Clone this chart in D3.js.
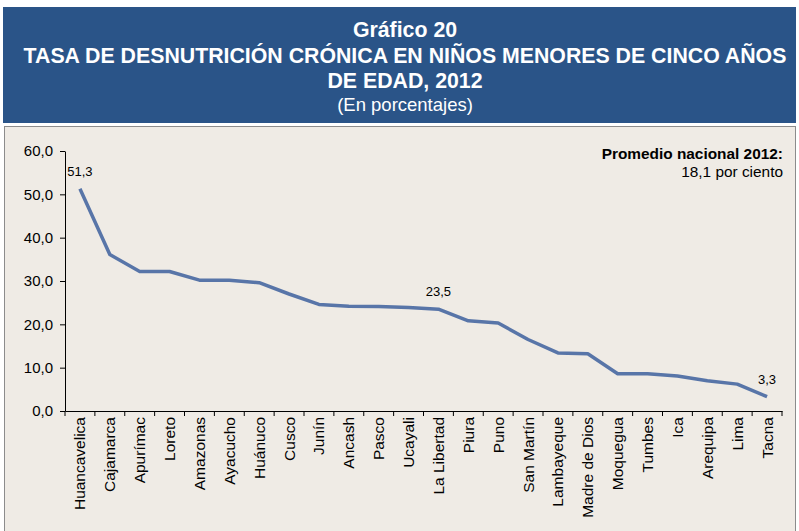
<!DOCTYPE html>
<meta charset="utf-8">
<body style="margin:0;background:#fff">
<script src="https://cdn.jsdelivr.net/npm/d3@7"></script>
<script>
// regions and values
var regions = ["Huancavelica","Cajamarca","Apurímac","Loreto","Amazonas","Ayacucho","Huánuco","Cusco","Junín","Ancash","Pasco","Ucayali","La Libertad","Piura","Puno","San Martín","Lambayeque","Madre de Dios","Moquegua","Tumbes","Ica","Arequipa","Lima","Tacna"];
var rates = [51.3,36.1,32.2,32.2,30.2,30.2,29.6,27.0,24.6,24.2,24.1,23.9,23.5,20.8,20.3,16.5,13.4,13.2,8.6,8.6,8.1,7.0,6.2,3.3];
var labelled = ["Huancavelica","La Libertad","Tacna"];
var yTicks = [0,10,20,30,40,50,60];

var W = 799, H = 531;
var fmt = function(v) { return d3.format(".1f")(v).replace(".", ","); };

var svg = d3.select("body").append("svg")
    .attr("width", W)
    .attr("height", H)
    .style("font-family", "Liberation Sans, Arial, sans-serif");

// header
svg.append("rect")
    .attr("x", 3).attr("y", 7).attr("width", 793).attr("height", 116)
    .attr("fill", "#2a5488");
var title = [
    {t: "Gráfico 20", y: 37, s: 21.3, w: "bold"},
    {t: "TASA DE DESNUTRICIÓN CRÓNICA EN NIÑOS MENORES DE CINCO AÑOS", y: 63, s: 21.3, w: "bold"},
    {t: "DE EDAD, 2012", y: 88, s: 21.3, w: "bold"},
    {t: "(En porcentajes)", y: 111, s: 18.5, w: "normal"}
];
svg.selectAll(".title").data(title).enter().append("text")
    .attr("x", 405).attr("y", function(d) { return d.y; })
    .attr("text-anchor", "middle")
    .attr("fill", "#fff")
    .style("font-size", function(d) { return d.s + "px"; })
    .style("font-weight", function(d) { return d.w; })
    .text(function(d) { return d.t; });

// chart panel
svg.append("rect")
    .attr("x", 4.5).attr("y", 126.5).attr("width", 791).attr("height", 410)
    .attr("fill", "#efebe5")
    .attr("stroke", "#8c8c8c");

var margin = {top: 151, left: 65},
    width = 782 - 65,
    height = 411 - 151;

var g = svg.append("g")
    .attr("transform", "translate(" + margin.left + "," + margin.top + ")");

var x = d3.scaleBand().domain(regions).range([0, width]);
var y = d3.scaleLinear().domain([0, 60]).range([height, 0]);

// y axis
var yAxis = g.append("g")
    .call(d3.axisLeft(y).tickValues(yTicks).tickFormat(fmt).tickSize(5).tickSizeOuter(0));
yAxis.selectAll("text").style("font-size", "15px").attr("fill", "#000").attr("x", -12);
yAxis.selectAll("line, path").attr("stroke", "#000");

// x axis with ticks between categories
var xAxis = g.append("g")
    .attr("transform", "translate(0," + height + ")")
    .call(d3.axisBottom(x).tickSize(0).tickSizeOuter(0));
xAxis.select(".domain").attr("stroke", "#000");
xAxis.selectAll("text")
    .style("font-size", "15.5px")
    .attr("fill", "#000")
    .attr("transform", "rotate(-90)")
    .attr("text-anchor", "end")
    .attr("x", -6)
    .attr("y", 0)
    .attr("dy", "0.35em");
g.append("g").selectAll("line")
    .data(d3.range(regions.length + 1))
    .enter().append("line")
    .attr("x1", function(i) { return i * x.step(); })
    .attr("x2", function(i) { return i * x.step(); })
    .attr("y1", height).attr("y2", height + 5)
    .attr("stroke", "#000");

// line
var line = d3.line()
    .x(function(d, i) { return x(regions[i]) + x.bandwidth() / 2; })
    .y(function(d) { return y(d); });
g.append("path")
    .datum(rates)
    .attr("d", line)
    .attr("fill", "none")
    .attr("stroke", "#5875a8")
    .attr("stroke-width", 3.5)
    .attr("stroke-linejoin", "round");

// data labels
g.selectAll(".lbl")
    .data(regions.filter(function(r) { return labelled.indexOf(r) >= 0; }))
    .enter().append("text")
    .attr("x", function(r) { return x(r) + x.bandwidth() / 2; })
    .attr("y", function(r) { return y(rates[regions.indexOf(r)]) - 13; })
    .attr("text-anchor", "middle")
    .style("font-size", "13px")
    .text(function(r) { return fmt(rates[regions.indexOf(r)]); });

// note
svg.append("text")
    .attr("x", 783).attr("y", 158.5)
    .attr("text-anchor", "end")
    .style("font-size", "15.4px").style("font-weight", "bold")
    .text("Promedio nacional 2012:");
svg.append("text")
    .attr("x", 783).attr("y", 177)
    .attr("text-anchor", "end")
    .style("font-size", "15.4px")
    .text("18,1 por ciento");
</script>
</body>
